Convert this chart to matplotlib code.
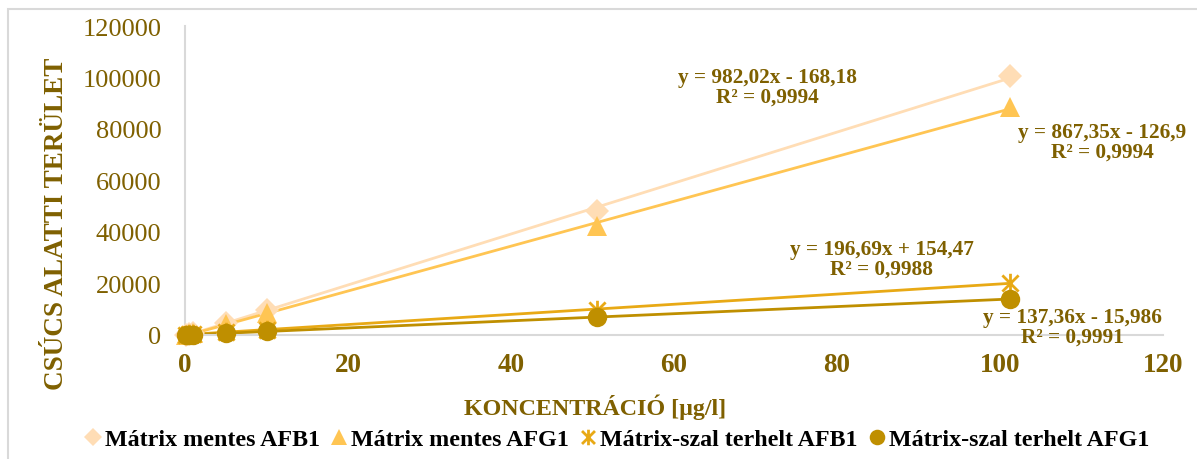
import numpy as np
import matplotlib
matplotlib.use("Agg")
import matplotlib.pyplot as plt
from matplotlib.patches import Rectangle
from matplotlib.path import Path

# ---- data ----
conc = [0.1, 0.5, 1.0, 5.06, 10.12, 50.6, 101.2]
afb1_mentes = [-60, 320, 800, 4800, 9700, 48200, 100500]
afg1_mentes = [-40, 290, 700, 4200, 8500, 42300, 88500]
afb1_szal = [170, 250, 380, 1150, 2100, 9800, 20200]
afg1_szal = [0, 50, 120, 700, 1400, 6900, 14000]

labels = ["Mátrix mentes AFB1", "Mátrix mentes AFG1",
          "Mátrix-szal terhelt AFB1", "Mátrix-szal terhelt AFG1"]
equations = ["y = 982,02x - 168,18\nR² = 0,9994",
             "y = 867,35x - 126,9\nR² = 0,9994",
             "y = 196,69x + 154,47\nR² = 0,9988",
             "y = 137,36x - 15,986\nR² = 0,9991"]
xticks = [0, 20, 40, 60, 80, 100, 120]
yticks = [0, 20000, 40000, 60000, 80000, 100000, 120000]

star = Path([(-1, -1), (1, 1), (-1, 1), (1, -1), (0, -1.2), (0, 1.2)],
            [Path.MOVETO, Path.LINETO, Path.MOVETO, Path.LINETO,
             Path.MOVETO, Path.LINETO])

colors = ["#FFDDB5", "#FFC553", "#E8A915", "#BF8F00"]
markers = ["D", "^", star, "o"]
msizes = [12, 15, 14, 14]
txtc = "#7F6000"
serif = ["Liberation Serif", "DejaVu Serif"]

W, H = 1197, 460
fig = plt.figure(figsize=(W / 100, H / 100), dpi=100)
ax = fig.add_axes([185 / W, 1 - 336 / H, (1163 - 185) / W, (336 - 27) / H])

series = [afb1_mentes, afg1_mentes, afb1_szal, afg1_szal]
x = np.array(conc)
for ys, c, m, ms, lab in zip(series, colors, markers, msizes, labels):
    ys = np.array(ys)
    k, b = np.polyfit(x, ys, 1)
    xx = np.array([0.0, x.max()])
    ax.plot(xx, k * xx + b, color=c, lw=2, zorder=2)
    mew = 2 if m is star else 0
    ax.plot(x, ys, linestyle="none", marker=m, markersize=ms, color=c,
            markeredgewidth=mew, markeredgecolor=c, label=lab, zorder=3,
            clip_on=False)

ax.set_xlim(0, 120)
ax.set_ylim(0, 120000)
ax.set_xticks(xticks)
ax.set_yticks(yticks)
ax.set_xticklabels([str(t) for t in xticks], family=serif, fontweight="bold",
                   fontsize=19.5, color=txtc)
ax.set_yticklabels([str(t) for t in yticks], family=serif, fontsize=19,
                   color=txtc)
ax.tick_params(axis="both", length=0)
ax.tick_params(axis="y", pad=17)
ax.tick_params(axis="x", pad=12)
for s in ["top", "right"]:
    ax.spines[s].set_visible(False)
for s in ["left", "bottom"]:
    ax.spines[s].set_color("#D9D9D9")
    ax.spines[s].set_linewidth(1.5)

fig.text(57 / W, 1 - 224 / H, "CSÚCS ALATTI TERÜLET", rotation=90,
         ha="center", va="center", family=serif, fontweight="bold",
         fontsize=19.5, color=txtc)
fig.text(595 / W, 1 - 407 / H, "KONCENTRÁCIÓ [µg/l]", ha="center",
         va="center", family=serif, fontweight="bold", fontsize=17.3, color=txtc)

eq_pos = [(767, 88), (1102, 143), (882, 260), (1072, 328)]
for (px, py), t in zip(eq_pos, equations):
    fig.text(px / W, 1 - py / H, t, ha="center", va="center",
             family=serif, fontweight="bold", fontsize=15.3, color=txtc,
             linespacing=1.0, zorder=5)

leg = fig.legend(loc="center", bbox_to_anchor=(615 / W, 1 - 440 / H),
                 ncol=4, frameon=False, handletextpad=0.0, columnspacing=0.3,
                 handlelength=1.0, markerscale=0.8,
                 prop={"family": serif, "weight": "bold", "size": 17.3})
for t in leg.get_texts():
    t.set_color("black")

fig.patches.append(Rectangle((8 / W, -0.1), 1.2, 1 - 10 / H + 0.1,
                             transform=fig.transFigure, fill=False,
                             edgecolor="#D9D9D9", lw=1.5, zorder=0))

fig.savefig("out.png", dpi=100)
